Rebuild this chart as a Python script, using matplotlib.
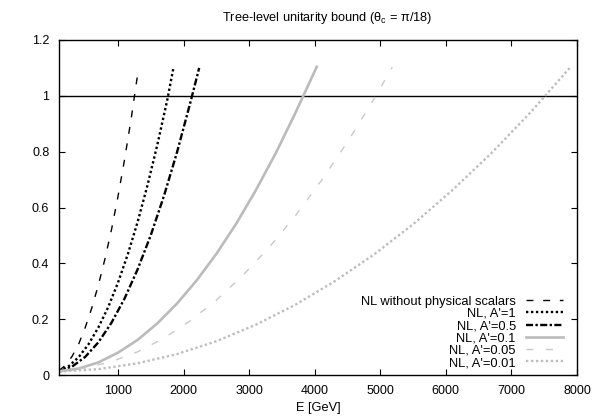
import matplotlib
matplotlib.use("Agg")
import matplotlib.pyplot as plt

plt.rcParams['font.family'] = ['Liberation Sans', 'DejaVu Sans']

# ---- data ----
E_noscal = [100, 200, 300, 400, 500, 600, 700, 800, 900, 1000, 1100, 1200, 1295]
v_noscal = [0.016, 0.035, 0.067, 0.111, 0.170, 0.240, 0.322, 0.415, 0.520, 0.640, 0.772, 0.917, 1.070]

E_a1 = [100, 250, 400, 550, 700, 850, 1000, 1150, 1300, 1450, 1600, 1750, 1845]
v_a1 = [0.015, 0.032, 0.064, 0.110, 0.170, 0.243, 0.331, 0.433, 0.549, 0.680, 0.825, 0.984, 1.100]

E_a05 = [100, 300, 500, 700, 900, 1100, 1300, 1500, 1700, 1900, 2100, 2238]
v_a05 = [0.012, 0.030, 0.065, 0.117, 0.187, 0.274, 0.379, 0.501, 0.641, 0.798, 0.973, 1.100]

E_a01 = [100, 400, 700, 1000, 1300, 1600, 1900, 2200, 2500, 2800, 3100, 3400, 3700, 4031]
v_a01 = [0.013, 0.023, 0.045, 0.080, 0.126, 0.185, 0.256, 0.339, 0.434, 0.541, 0.661, 0.792, 0.936, 1.104]

E_a005 = [100, 500, 900, 1300, 1700, 2100, 2500, 2900, 3300, 3700, 4100, 4500, 4900, 5183]
v_a005 = [0.015, 0.025, 0.048, 0.083, 0.132, 0.194, 0.268, 0.356, 0.456, 0.569, 0.696, 0.835, 0.987, 1.103]

E_a001 = [100, 700, 1300, 1900, 2500, 3100, 3700, 4300, 4900, 5500, 6100, 6700, 7300, 7908]
v_a001 = [0.012, 0.021, 0.042, 0.075, 0.121, 0.180, 0.251, 0.335, 0.431, 0.540, 0.662, 0.796, 0.943, 1.105]

labels = ["NL without physical scalars", "NL, A'=1", "NL, A'=0.5",
          "NL, A'=0.1", "NL, A'=0.05", "NL, A'=0.01"]

x_ticks = [1000, 2000, 3000, 4000, 5000, 6000, 7000, 8000]
y_ticks = [0, 0.2, 0.4, 0.6, 0.8, 1.0, 1.2]
y_ticklabels = ["0", "0.2", "0.4", "0.6", "0.8", "1", "1.2"]

title = "Tree-level unitarity bound (θ$_\\mathregular{c}$ = π/18)"
xlabel = "E [GeV]"

# ---- figure ----
W, H = 597, 418
fig = plt.figure(figsize=(W / 100, H / 100), dpi=100)
ax = fig.add_axes([59 / W, 1 - 375 / H, (577 - 59) / W, (375 - 40) / H])

ax.axhline(1.0, color='black', lw=1.0, zorder=1)

ax.plot(E_noscal, v_noscal, color='black', lw=1.0, dashes=(5, 7), label=labels[0])
ax.plot(E_a1, v_a1, color='black', lw=1.7, dashes=(1.0, 1.1), label=labels[1])
ax.plot(E_a05, v_a05, color='black', lw=1.7, dashes=(3, 1, 1, 1), label=labels[2])
ax.plot(E_a01, v_a01, color='#bbbbbb', lw=1.9, label=labels[3])
ax.plot(E_a005, v_a005, color='#c8c8c8', lw=1.0, dashes=(5, 9), label=labels[4])
ax.plot(E_a001, v_a001, color='#bdbdbd', lw=1.7, dashes=(1.0, 1.1), label=labels[5])

ax.set_xlim(100, 8000)
ax.set_ylim(0, 1.2)
ax.set_xticks(x_ticks)
ax.set_xticklabels([str(t) for t in x_ticks])
ax.set_yticks(y_ticks)
ax.set_yticklabels(y_ticklabels)
ax.tick_params(direction='in', length=4.5, width=0.8, top=True, right=True,
               labelsize=9, pad=7, colors='black')
for s in ax.spines.values():
    s.set_linewidth(1.0)
    s.set_color('black')

fig.text(327 / W, 1 - 18 / H, title, ha='center', va='center', fontsize=9.2)
fig.text(318 / W, 1 - 408 / H, xlabel, ha='center', va='center', fontsize=9.2)

leg = ax.legend(loc='lower right', bbox_to_anchor=(563 / W, 1 - 369 / H),
                bbox_transform=fig.transFigure, frameon=False, markerfirst=False,
                fontsize=9.3, handlelength=2.9, handletextpad=0.75, labelspacing=0.02,
                borderaxespad=0, borderpad=0)

fig.savefig("out.png", dpi=100)
